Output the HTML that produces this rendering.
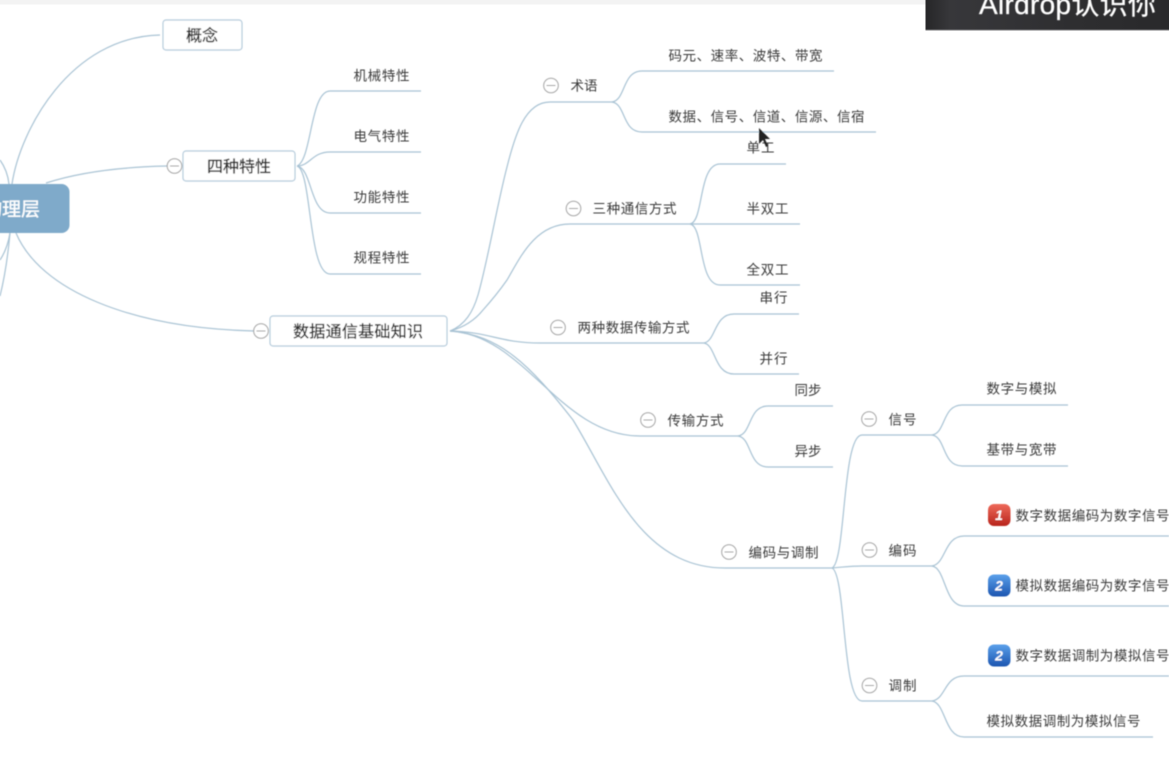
<!DOCTYPE html>
<html lang="zh"><head><meta charset="utf-8"><title>物理层</title>
<style>
html,body{margin:0;padding:0;background:#fff;width:1169px;height:763px;overflow:hidden}
svg{display:block}
text{font-family:"Liberation Sans","Noto Sans CJK SC",sans-serif;fill:#3a3a3a}
.t{font-size:13.5px}
.b{font-size:16px;fill:#2a2a2a;stroke:#2a2a2a;stroke-width:.25}
.l{fill:none;stroke:#a9c3d4;stroke-width:1.2}
.c{fill:#fff;stroke:#a0a0a0;stroke-width:1}
.m{stroke:#9a9a9a;stroke-width:1}
.n{fill:#fff;stroke:#b4cbdb;stroke-width:1.2}
</style></head><body>
<svg width="1169" height="763" viewBox="0 0 1169 763" xmlns="http://www.w3.org/2000/svg">
<defs>
<filter id="s" x="-5%" y="-5%" width="110%" height="110%"><feGaussianBlur stdDeviation="0.45"/></filter>
<linearGradient id="red" x1="0" y1="0" x2="0" y2="1"><stop offset="0" stop-color="#ee6a5a"/><stop offset="1" stop-color="#b8241c"/></linearGradient>
<linearGradient id="blue" x1="0" y1="0" x2="0" y2="1"><stop offset="0" stop-color="#5aa0ea"/><stop offset="1" stop-color="#1c55b0"/></linearGradient>
<linearGradient id="vid" x1="0" y1="0" x2="1" y2="0"><stop offset="0" stop-color="#262628"/><stop offset="0.1" stop-color="#37373a"/><stop offset="0.3" stop-color="#343437"/><stop offset="0.6" stop-color="#2e2e30"/><stop offset="1" stop-color="#29292b"/></linearGradient>
</defs>
<rect width="1169" height="763" fill="#fff"/>
<rect width="1169" height="4.500" fill="#f3f3f3"/>
<g filter="url(#s)">
<!-- root connectors -->
<path class="l" d="M12 184C20 130 70 37 160 35"/>
<path class="l" d="M46 183C80 172 120 167 167 166"/>
<path class="l" d="M16 233C40 290 130 328 254 331"/>
<path class="l" d="M0 160C5 167 8 175 9 184"/>
<path class="l" d="M10 233C8 245 4 254 0 260"/>
<path class="l" d="M10 233C8 255 4 280 0 296"/>
<!-- 四种特性 -->
<path class="l" d="M297 166C312 160 310 91 330 91H421"/>
<path class="l" d="M297 166C310 166 312 152 330 152H421"/>
<path class="l" d="M297 166C312 168 310 213 330 213H421"/>
<path class="l" d="M297 166C312 170 308 274 330 274H421"/>
<!-- 数据通信 branches -->
<path class="l" d="M450 331C465 325 473 312 478 295C488 260 497 205 507 167C515 135 525 102 550 102H612"/>
<path class="l" d="M612 102C626 100 622 71 642 71H834"/>
<path class="l" d="M612 102C626 104 622 132 642 132H876"/>
<path class="l" d="M450 331C465 327 475 320 483 310C492 300 500 290 507 280C520 258 535 224 570 224H690"/>
<path class="l" d="M690 224C704 222 698 164 720 164H786"/>
<path class="l" d="M690 224H800"/>
<path class="l" d="M690 224C704 226 698 285 720 285H800"/>
<path class="l" d="M450 331C490 332 500 343 540 343H704"/>
<path class="l" d="M704 343C716 341 714 314 734 314H799"/>
<path class="l" d="M704 343C716 345 714 374 734 374H799"/>
<path class="l" d="M450 331C525 335 560 436 640 436H738"/>
<path class="l" d="M738 436C752 434 748 406 768 406H833"/>
<path class="l" d="M738 436C752 438 748 467 768 467H833"/>
<path class="l" d="M450 331C500 335 530 365 573 420C610 480 640 568 725 568H832"/>
<!-- 编码与调制 -->
<path class="l" d="M832 568C846 562 842 435 862 435H932"/>
<path class="l" d="M832 568C845 567 850 566 862 566H932"/>
<path class="l" d="M832 568C846 574 842 701 862 701H932"/>
<path class="l" d="M932 435C946 433 942 405 962 405H1068"/>
<path class="l" d="M932 435C946 437 942 466 962 466H1068"/>
<path class="l" d="M932 566C946 564 944 536 964 536H1169"/>
<path class="l" d="M932 566C946 568 944 606 964 606H1169"/>
<path class="l" d="M932 701C946 699 944 676 964 676H1169"/>
<path class="l" d="M932 701C946 703 944 737 964 737H1153"/>
<!-- root -->
<rect x="-20" y="184" width="89.500" height="49" rx="8" fill="#7faaca"/>
<text x="-17" y="215.500" style="fill:#fff;font-size:19px;stroke:#fff;stroke-width:.3">物理层</text>
<!-- boxed nodes -->
<rect class="n" x="163" y="20" width="79" height="30" rx="3"/>
<text class="b" x="186" y="41" textLength="32">概念</text>
<rect class="n" x="183" y="151" width="112" height="30" rx="3"/>
<text class="b" x="207" y="172" textLength="64">四种特性</text>
<rect class="n" x="270" y="316" width="177" height="30" rx="3"/>
<text class="b" x="293" y="337" textLength="130">数据通信基础知识</text>
<!-- collapse circles -->
<g>
<circle class="c" cx="174.500" cy="166" r="7.300"/><path class="m" d="M170 166h9"/>
<circle class="c" cx="261" cy="331" r="7.300"/><path class="m" d="M256.500 331h9"/>
<circle class="c" cx="551" cy="85.500" r="7.300"/><path class="m" d="M546.500 85.500h9"/>
<circle class="c" cx="573.500" cy="208.500" r="7.300"/><path class="m" d="M569 208.500h9"/>
<circle class="c" cx="558" cy="327.500" r="7.300"/><path class="m" d="M553.500 327.500h9"/>
<circle class="c" cx="648" cy="420" r="7.300"/><path class="m" d="M643.500 420h9"/>
<circle class="c" cx="729" cy="552" r="7.300"/><path class="m" d="M724.500 552h9"/>
<circle class="c" cx="869" cy="419" r="7.300"/><path class="m" d="M864.500 419h9"/>
<circle class="c" cx="869.500" cy="550" r="7.300"/><path class="m" d="M865 550h9"/>
<circle class="c" cx="869.500" cy="685.500" r="7.300"/><path class="m" d="M865 685.500h9"/>
</g>
<!-- labels -->
<text class="t" x="353.500" y="80.500" textLength="56">机械特性</text>
<text class="t" x="353.500" y="141" textLength="56">电气特性</text>
<text class="t" x="353.500" y="202" textLength="56">功能特性</text>
<text class="t" x="353.500" y="262.500" textLength="56">规程特性</text>
<text class="t" x="570.500" y="90.500" textLength="27">术语</text>
<text class="t" x="668.500" y="60.500" textLength="154">码元、速率、波特、带宽</text>
<text class="t" x="668.500" y="121.500" textLength="196">数据、信号、信道、信源、信宿</text>
<text class="t" x="592.500" y="213.500" textLength="84">三种通信方式</text>
<text class="t" x="746.500" y="152.500" textLength="28">单工</text>
<text class="t" x="746.500" y="213.500" textLength="42">半双工</text>
<text class="t" x="746.500" y="274.500" textLength="42">全双工</text>
<text class="t" x="577.500" y="332.500" textLength="112">两种数据传输方式</text>
<text class="t" x="759.500" y="302.500" textLength="28">串行</text>
<text class="t" x="759.500" y="363.500" textLength="28">并行</text>
<text class="t" x="667.500" y="425.500" textLength="56">传输方式</text>
<text class="t" x="794.500" y="395" textLength="27">同步</text>
<text class="t" x="794.500" y="456" textLength="27">异步</text>
<text class="t" x="748.500" y="557.500" textLength="70">编码与调制</text>
<text class="t" x="888.500" y="424.500" textLength="28">信号</text>
<text class="t" x="888.500" y="555.500" textLength="28">编码</text>
<text class="t" x="888.500" y="690.500" textLength="28">调制</text>
<text class="t" x="986.500" y="393.500" textLength="70">数字与模拟</text>
<text class="t" x="986.500" y="454.500" textLength="70">基带与宽带</text>
<text class="t" x="1015.500" y="520.500" textLength="154">数字数据编码为数字信号</text>
<text class="t" x="1015.500" y="590.500" textLength="154">模拟数据编码为数字信号</text>
<text class="t" x="1015.500" y="660.500" textLength="154">数字数据调制为模拟信号</text>
<text class="t" x="986.500" y="726" textLength="154">模拟数据调制为模拟信号</text>
<!-- priority icons -->
<rect x="988" y="504" width="22.500" height="22" rx="6" fill="url(#red)"/>
<text x="999" y="520" text-anchor="middle" style="fill:#fff;font-size:14px;font-weight:bold;font-style:italic">1</text>
<rect x="988" y="574.500" width="22.500" height="22" rx="6" fill="url(#blue)"/>
<text x="999" y="590.500" text-anchor="middle" style="fill:#fff;font-size:14px;font-weight:bold;font-style:italic">2</text>
<rect x="988" y="644.500" width="22.500" height="22" rx="6" fill="url(#blue)"/>
<text x="999" y="660.500" text-anchor="middle" style="fill:#fff;font-size:14px;font-weight:bold;font-style:italic">2</text>
<!-- cursor -->
<path d="M759 128V144L763 140L766 147L768 146L765 139L770 139Z" fill="#222"/>
</g>
<!-- video overlay -->
<rect x="925.500" y="0" width="243.500" height="30" fill="url(#vid)"/>
<rect x="925.500" y="29.500" width="243.500" height="1" fill="#77777a"/>
<text x="979" y="14" filter="url(#s)" style="fill:#fff;font-size:28px;stroke:#fff;stroke-width:.3" textLength="177">Airdrop认识你</text>
</svg>
</body></html>
